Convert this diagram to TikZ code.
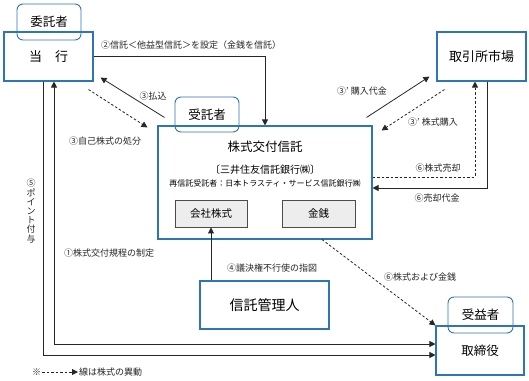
\documentclass[tikz,border=0pt]{standalone}
\usepackage{fontspec}
\setmainfont{Noto Sans CJK JP}
\usetikzlibrary{arrows.meta,calc}
\definecolor{boxblue}{RGB}{46,117,182}

\begin{document}
\begin{tikzpicture}[x=1pt,y=-1pt,>={Triangle[length=6pt,width=6pt]},
  box/.style={draw=boxblue,line width=1.1pt,fill=white,inner sep=0pt,font=\fontsize{13}{13}\selectfont},
  role/.style={draw=boxblue,line width=0.9pt,rounded corners=6pt,minimum width=64pt,minimum height=36pt,inner sep=0pt,font=\fontsize{12.5}{12.5}\selectfont},
  asset/.style={draw=black!70,line width=0.9pt,fill=black!7,minimum width=72pt,minimum height=27pt,inner sep=0pt,font=\fontsize{10.5}{10.5}\selectfont},
  flow/.style={draw=black!85,line width=0.8pt},
  stock/.style={flow,dash pattern=on 2.5pt off 2pt},
  lbl/.style={font=\fontsize{9}{9}\selectfont,text=black!85,inner sep=1pt}]
  \useasboundingbox[fill=white] (0,0) rectangle (529,380);

  \node[box,minimum width=89pt,minimum height=49pt] (bank) at (48.5,56.5) {当　行};
  \node[box,minimum width=89pt,minimum height=49pt] (market) at (481.5,56.5) {取引所市場};
  \node[box,minimum width=214pt,minimum height=113pt] (trust) at (265,182.5) {};
  \node[font=\fontsize{12.5}{12.5}\selectfont] (ttitle) at (265,147) {株式交付信託};
  \node[font=\fontsize{10}{10}\selectfont] (tbank) at (265,170) {〔三井住友信託銀行㈱〕};
  \node[font=\fontsize{8}{8}\selectfont] (tsub) at (265,183) {再信託受託者：日本トラスティ・サービス信託銀行㈱};
  \node[asset] (shares) at (211,213.5) {会社株式};
  \node[asset,minimum width=73pt] (cash) at (318.5,213.5) {金銭};
  \node[box,minimum width=129pt,minimum height=48pt,font=\fontsize{14}{14}\selectfont] (admin) at (264.5,305) {信託管理人};
  \node[box,minimum width=88pt,minimum height=49pt,font=\fontsize{12.5}{12.5}\selectfont] (board) at (480,350.5) {取締役};
  \node[role] (settlor) at (49,22) {委託者};
  \node[role,minimum height=35pt] (trustee) at (207,114.5) {受託者};
  \node[role,minimum width=65pt] (benef) at (480.5,315) {受益者};

  \draw[flow,->] (bank.east) -| (trust.north);
  \node[lbl,anchor=west] (l2) at (100,45) {②信託＜他益型信託＞を設定（金銭を信託）};
  \draw[flow,->] ($(trust.north west)+(7,-8)$) -- ($(bank.south east)+(7,-4)$);
  \node[lbl] (l3a) at (153,96) {③払込};
  \draw[stock,->] ($(bank.south east)+(-5,8)$) -- ($(trust.north west)+(-10,2)$);
  \node[lbl] (l3b) at (105,141) {③自己株式の処分};
  \draw[flow,->] ($(trust.north east)+(-6,-8)$) -- ($(market.south west)+(-7,-5)$);
  \node[lbl] (l3c) at (362,91) {③’ 購入代金};
  \draw[stock,->] ($(market.south west)+(8,8)$) -- ($(trust.north east)+(9,5)$);
  \node[lbl] (l3d) at (433,122) {③’ 株式購入};
  \draw[stock,->] ($(trust.east)+(0,-5.5)$) -| ($(market.south)+(-6.5,0)$);
  \node[lbl] (l6a) at (438,168) {⑥株式売却};
  \draw[flow,->] ($(market.south)+(5.5,0)$) |- ($(trust.east)+(0,5.5)$);
  \node[lbl] (l6b) at (437,198) {⑥売却代金};
  \draw[stock,->] ($(trust.south)+(57,0)$) -- (board.north west);
  \node[lbl] (l6c) at (420,277) {⑥株式および金銭};
  \draw[flow,->] (admin.north -| shares.south) -- (shares.south);
  \node[lbl] (l4) at (272,268) {④議決権不行使の指図};
  \draw[flow,<->] ($(bank.south)+(5.5,0)$) |- ($(board.west)+(0,-6.5)$);
  \node[lbl] (l1) at (109,253) {①株式交付規程の制定};
  \draw[flow,->] ($(bank.south)+(-5.5,0)$) |- ($(board.west)+(0,4.5)$);
  \node[lbl,align=center,font=\fontsize{9}{9.2}\selectfont] (l5) at (31,211) {⑤\\ポ\\イ\\ン\\ト\\付\\与};

  \node[lbl,anchor=west] (note) at (31,372) {※};
  \node[lbl,anchor=west] (notetxt) at (78,372) {線は株式の異動};
  \draw[stock,->] (note.east) -- (notetxt.west);
\end{tikzpicture}
\end{document}
